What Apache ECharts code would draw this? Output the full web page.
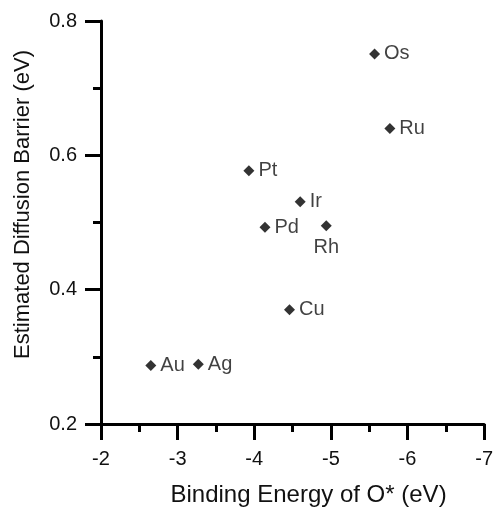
<!DOCTYPE html>
<html lang="en">
<head>
    <meta charset="UTF-8"/>
    <script src="https://cdn.jsdelivr.net/npm/echarts@6/dist/echarts.min.js"></script>
    <title>Diffusion barrier vs binding energy</title>
</head>
<body style="margin:0; overflow:hidden">
<div id="main" style="width:496px; height:512px;"></div>
<script type="text/javascript">
    // metals and values
    var metals = ['Os', 'Ru', 'Pt', 'Ir', 'Pd', 'Rh', 'Cu', 'Au', 'Ag'];
    var bindingEnergy = [-5.57, -5.77, -3.93, -4.60, -4.14, -4.94, -4.46, -2.65, -3.27];
    var barrier = [0.751, 0.640, 0.577, 0.531, 0.493, 0.495, 0.370, 0.287, 0.289];
    var labelBelow = ['Rh'];

    var font = 'Liberation Sans, Arial, sans-serif';
    var myChart = echarts.init(document.getElementById('main'));

    var points = metals.map(function (m, i) {
        var p = { name: m, value: [bindingEnergy[i], barrier[i]] };
        if (labelBelow.indexOf(m) >= 0) {
            p.label = { position: 'bottom', distance: 6 };
        }
        return p;
    });

    var axisCommon = {
        axisLine: { show: true, lineStyle: { color: '#000', width: 3 } },
        axisTick: { show: true, length: 16, lineStyle: { color: '#000', width: 3 } },
        minorTick: { show: true, splitNumber: 2, length: 8, lineStyle: { color: '#000', width: 3 } },
        splitLine: { show: false },
        axisLabel: { color: '#111', fontSize: 20, fontFamily: font },
        nameTextStyle: { color: '#111', fontSize: 23, fontFamily: font }
    };

    option = {
        animation: false,
        grid: { left: 101, right: 9, top: 21, bottom: 85 },
        xAxis: Object.assign({}, axisCommon, {
            type: 'value',
            inverse: true,
            min: -7,
            max: -2,
            interval: 1,
            name: 'Binding Energy of O* (eV)',
            nameLocation: 'middle',
            nameGap: 59,
            axisLabel: Object.assign({}, axisCommon.axisLabel, { margin: 25 }),
            nameTextStyle: Object.assign({}, axisCommon.nameTextStyle, { fontSize: 24, padding: [0, 0, 0, 32] })
        }),
        yAxis: Object.assign({}, axisCommon, {
            type: 'value',
            min: 0.2,
            max: 0.8,
            interval: 0.2,
            name: 'Estimated Diffusion Barrier (eV)',
            nameLocation: 'middle',
            nameGap: 67,
            axisLabel: Object.assign({}, axisCommon.axisLabel, {
                margin: 24,
                formatter: function (v) { return v.toFixed(1); }
            }),
            nameTextStyle: Object.assign({}, axisCommon.nameTextStyle, { fontSize: 22, padding: [0, 0, 0, 36] })
        }),
        series: [
            {
                type: 'scatter',
                symbol: 'diamond',
                symbolSize: 11,
                itemStyle: { color: '#000' },
                label: {
                    show: true,
                    position: 'right',
                    distance: 4,
                    formatter: '{b}',
                    color: '#111',
                    fontSize: 20,
                    fontFamily: font
                },
                data: points
            }
        ]
    };

    myChart.setOption(option);
</script>
</body>
</html>
